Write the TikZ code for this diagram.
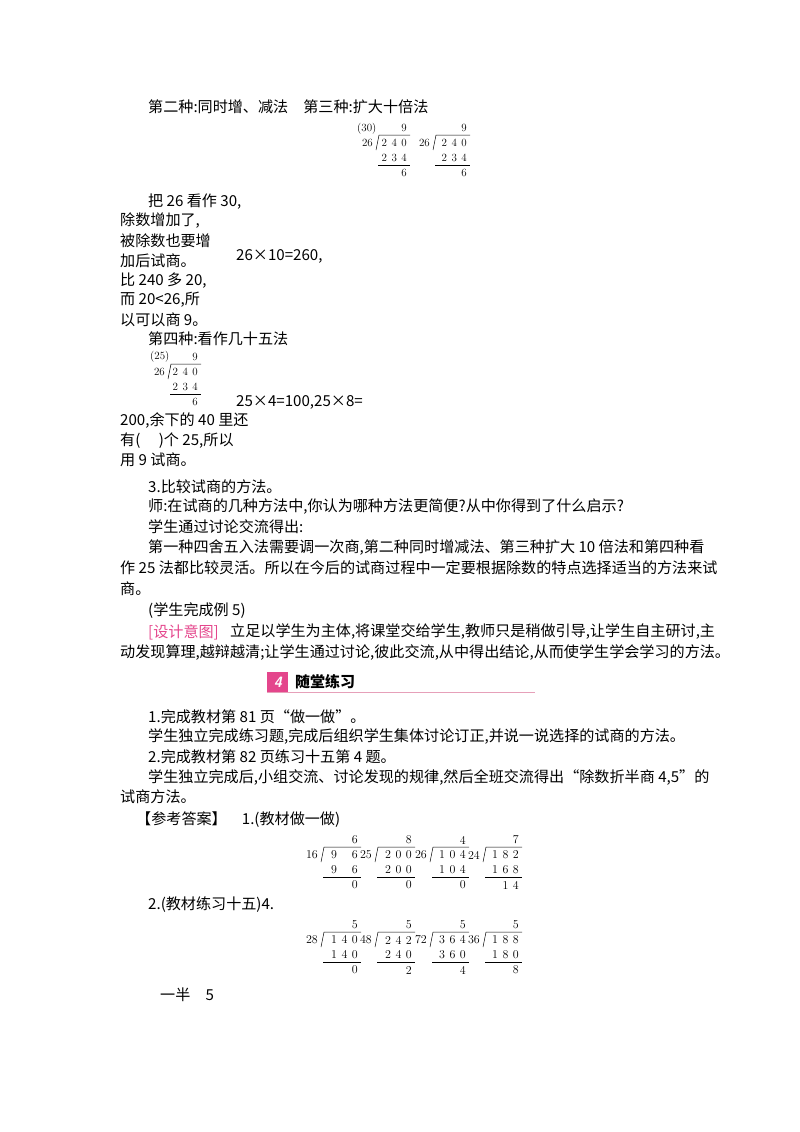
\documentclass[tikz,border=0pt]{standalone}
\usepackage{fontspec}
\newfontfamily\cjk{Noto Sans CJK SC}
\definecolor{pinkc}{RGB}{228,70,140}
\definecolor{linec}{RGB}{230,160,185}
\tikzset{txt/.style={anchor=west,inner sep=0pt,font=\cjk\fontsize{15.1}{16}\selectfont},
 dg/.style={inner sep=0pt,font=\rmfamily\fontsize{11}{12}\selectfont},
 dgb/.style={inner sep=0pt,font=\rmfamily\fontsize{12}{13}\selectfont}}
% \dv{x}{y}{style}{w}{divisor}{dividend}{quot}{prod}{rem}
\newcommand{\dv}[9]{%
 \node[#3,anchor=east] at (#1-3,#2) {#5};
 \draw[line width=0.5pt] (#1,#2+7) -- (#1+3,#2-8) -- (#1+#4+3,#2-8);
 \node[#3,anchor=east] at (#1+#4,#2) {#6};
 \node[#3,anchor=east] at (#1+#4,#2-15) {#7};
 \node[#3,anchor=east] at (#1+#4,#2+15) {#8};
 \draw[line width=0.5pt] (#1+2,#2+22) -- (#1+#4+3,#2+22);
 \node[#3,anchor=east] at (#1+#4,#2+30) {#9};
}
\newcommand{\dsp}{\hspace{4.5pt}}
\begin{document}
\begin{tikzpicture}[x=1pt,y=-1pt]
\useasboundingbox (0,0) rectangle (800,1132);
\node[txt] (l1) at (148,107) {第二种:同时增、减法\quad 第三种:扩大十倍法};
\node[dg,anchor=west] at (357,129) {(30)};
\dv{376}{143}{dg}{31}{26}{2\dsp 4\dsp 0}{9}{2\dsp 3\dsp 4}{6}
\dv{433}{143}{dg}{34}{26}{2\dsp 4\dsp 0}{9}{2\dsp 3\dsp 4}{6}
\node[txt] at (148,202) {把 26 看作 30,};
\node[txt] at (120,221) {除数增加了,};
\node[txt] at (120,241) {被除数也要增};
\node[txt] at (120,261) {加后试商。};
\node[txt] at (236,256) {26×10=260,};
\node[txt] at (120,281) {比 240 多 20,};
\node[txt] at (120,300) {而 20<26,所};
\node[txt] at (120,320) {以可以商 9。};
\node[txt] at (148,339) {第四种:看作几十五法};
\node[dg,anchor=west] at (150,357) {(25)};
\dv{168}{372}{dg}{30}{26}{2\dsp 4\dsp 0}{9}{2\dsp 3\dsp 4}{6}
\node[txt] at (236,402) {25×4=100,25×8=};
\node[txt] at (120,421) {200,余下的 40 里还};
\node[txt] at (120,441) {有(\quad\ )个 25,所以};
\node[txt] at (120,460) {用 9 试商。};
\node[txt] at (148,487) {3.比较试商的方法。};
\node[txt] at (148,507) {师:在试商的几种方法中,你认为哪种方法更简便?从中你得到了什么启示?};
\node[txt] at (148,527) {学生通过讨论交流得出:};
\node[txt] at (148,548) {第一种四舍五入法需要调一次商,第二种同时增减法、第三种扩大 10 倍法和第四种看};
\node[txt] at (120,568) {作 25 法都比较灵活。所以在今后的试商过程中一定要根据除数的特点选择适当的方法来试};
\node[txt] at (120,589) {商。};
\node[txt] at (148,611) {(学生完成例 5)};
\node[txt,text=pinkc] at (148,632) {[设计意图]};
\node[txt] at (230,632) {立足以学生为主体,将课堂交给学生,教师只是稍做引导,让学生自主研讨,主};
\node[txt] at (120,653) {动发现算理,越辩越清;让学生通过讨论,彼此交流,从中得出结论,从而使学生学会学习的方法。};
\fill[pinkc] (267,672) rectangle (288,692);
\node[inner sep=0pt,text=white,font=\sffamily\bfseries\itshape\fontsize{15}{15}\selectfont] at (278,682) {4};
\node[txt,font=\cjk\bfseries\fontsize{15}{16}\selectfont] at (295,682) {随堂练习};
\draw[linec,line width=1pt] (267,692) -- (535,692);
\node[txt] at (148,717) {1.完成教材第 81 页“做一做”。};
\node[txt] at (148,737) {学生独立完成练习题,完成后组织学生集体讨论订正,并说一说选择的试商的方法。};
\node[txt] at (148,757) {2.完成教材第 82 页练习十五第 4 题。};
\node[txt] at (148,777) {学生独立完成后,小组交流、讨论发现的规律,然后全班交流得出“除数折半商 4,5”的};
\node[txt] at (120,797) {试商方法。};
\node[txt] at (136,820) {【参考答案】\quad 1.(教材做一做)};
\dv{321}{855}{dgb}{37}{16}{9\dsp\phantom{0}\dsp 6}{6}{9\dsp\phantom{0}\dsp 6}{0}
\dv{375}{855}{dgb}{37}{25}{2\dsp 0\dsp 0}{8}{2\dsp 0\dsp 0}{0}
\dv{430}{855}{dgb}{36}{26}{1\dsp 0\dsp 4}{4}{1\dsp 0\dsp 4}{0}
\dv{483}{855}{dgb}{36}{24}{1\dsp 8\dsp 2}{7}{1\dsp 6\dsp 8}{1\dsp 4}
\node[txt] at (148,905) {2.(教材练习十五)4.};
\dv{321}{940}{dgb}{37}{28}{1\dsp 4\dsp 0}{5}{1\dsp 4\dsp 0}{0}
\dv{375}{940}{dgb}{37}{48}{2\dsp 4\dsp 2}{5}{2\dsp 4\dsp 0}{2}
\dv{430}{940}{dgb}{36}{72}{3\dsp 6\dsp 4}{5}{3\dsp 6\dsp 0}{4}
\dv{483}{940}{dgb}{36}{36}{1\dsp 8\dsp 8}{5}{1\dsp 8\dsp 0}{8}
\node[txt] at (160,995) {一半\quad 5};
\end{tikzpicture}
\end{document}
